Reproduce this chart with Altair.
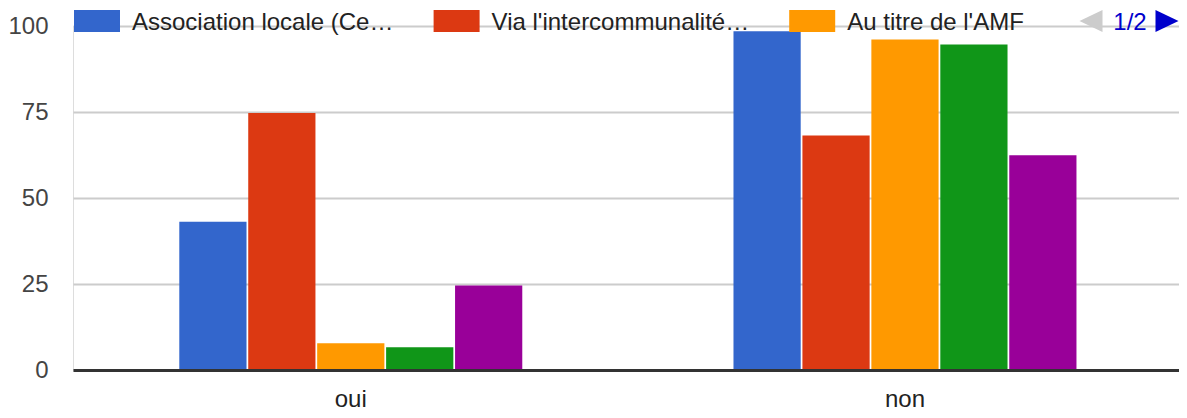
import altair as alt
import pandas as pd

FONT = "Liberation Sans"

categories = ["oui", "non"]
series = [
    "Association locale (Ce…",
    "Via l'intercommunalité…",
    "Au titre de l'AMF",
    "Série 4",
    "Série 5",
]
colors = ["#3366cc", "#dc3912", "#ff9900", "#109618", "#990099"]
values_oui = [43.1, 74.7, 7.8, 6.6, 24.6]
values_non = [98.5, 68.2, 96.1, 94.6, 62.4]
y_ticks = [0, 25, 50, 75, 100]
legend_visible = series[:3]
pager_label = "1/2"

rows = []
for s, v in zip(series, values_oui):
    rows.append({"categorie": "oui", "serie": s, "valeur": v})
for s, v in zip(series, values_non):
    rows.append({"categorie": "non", "serie": s, "valeur": v})
df = pd.DataFrame(rows)

bars = alt.Chart(df).mark_bar().encode(
    x=alt.X(
        "categorie:N",
        sort=categories,
        scale=alt.Scale(paddingInner=0.3811, paddingOuter=0.1884, align=0.509),
        axis=alt.Axis(
            title=None, labelAngle=0, ticks=False, tickSize=0, grid=False,
            domainColor="#333333", domainWidth=3, zindex=1,
            labelFont=FONT, labelFontSize=24, labelColor="#222222",
            labelBaseline="alphabetic", labelPadding=36,
        ),
    ),
    xOffset=alt.XOffset("serie:N", sort=series, scale=alt.Scale(paddingInner=0.025)),
    y=alt.Y(
        "valeur:Q",
        scale=alt.Scale(domain=[0, 100], nice=False),
        axis=alt.Axis(
            title=None, values=y_ticks, domain=False, ticks=False, tickSize=0,
            gridColor="#cccccc", gridWidth=2,
            labelFont=FONT, labelFontSize=24, labelColor="#444444", labelPadding=25,
        ),
    ),
    color=alt.Color(
        "serie:N",
        sort=series,
        scale=alt.Scale(domain=series, range=colors),
        legend=alt.Legend(
            title=None, orient="none", legendX=1, legendY=-26.5,
            direction="horizontal", columns=3, values=legend_visible,
            symbolType="M-1,-0.543H1V0.413H-1Z", symbolSize=2116,
            symbolStrokeWidth=0, symbolOpacity=1,
            labelFont=FONT, labelFontSize=24, labelColor="#222222",
            labelOffset=12, columnPadding=39.6, padding=0, labelLimit=500,
        ),
    ),
)

one = alt.Data(values=[{"k": 0}])
pager_left = alt.Chart(one).mark_point(
    shape="M1,-0.96L-1,0L1,0.96Z", filled=True, size=529, color="#cccccc",
    opacity=1, strokeWidth=0,
).encode(x=alt.value(1018), y=alt.value(-5))
pager_text = alt.Chart(one).mark_text(
    text=pager_label, font=FONT, fontSize=24, color="#0000cc",
    align="center", baseline="middle",
).encode(x=alt.value(1057), y=alt.value(-3.5))
pager_right = alt.Chart(one).mark_point(
    shape="M-1,-0.96L1,0L-1,0.96Z", filled=True, size=529, color="#0000cc",
    opacity=1, strokeWidth=0,
).encode(x=alt.value(1094), y=alt.value(-5))

chart = alt.layer(bars, pager_left, pager_text, pager_right).properties(
    width=1106,
    height=344,
    autosize=alt.AutoSizeParams(type="none"),
    padding={"left": 65, "top": 18, "right": 0, "bottom": 40},
).configure_view(stroke=None).configure(background="white")

chart.save("out.html", embed_options={"renderer": "svg", "actions": False})
